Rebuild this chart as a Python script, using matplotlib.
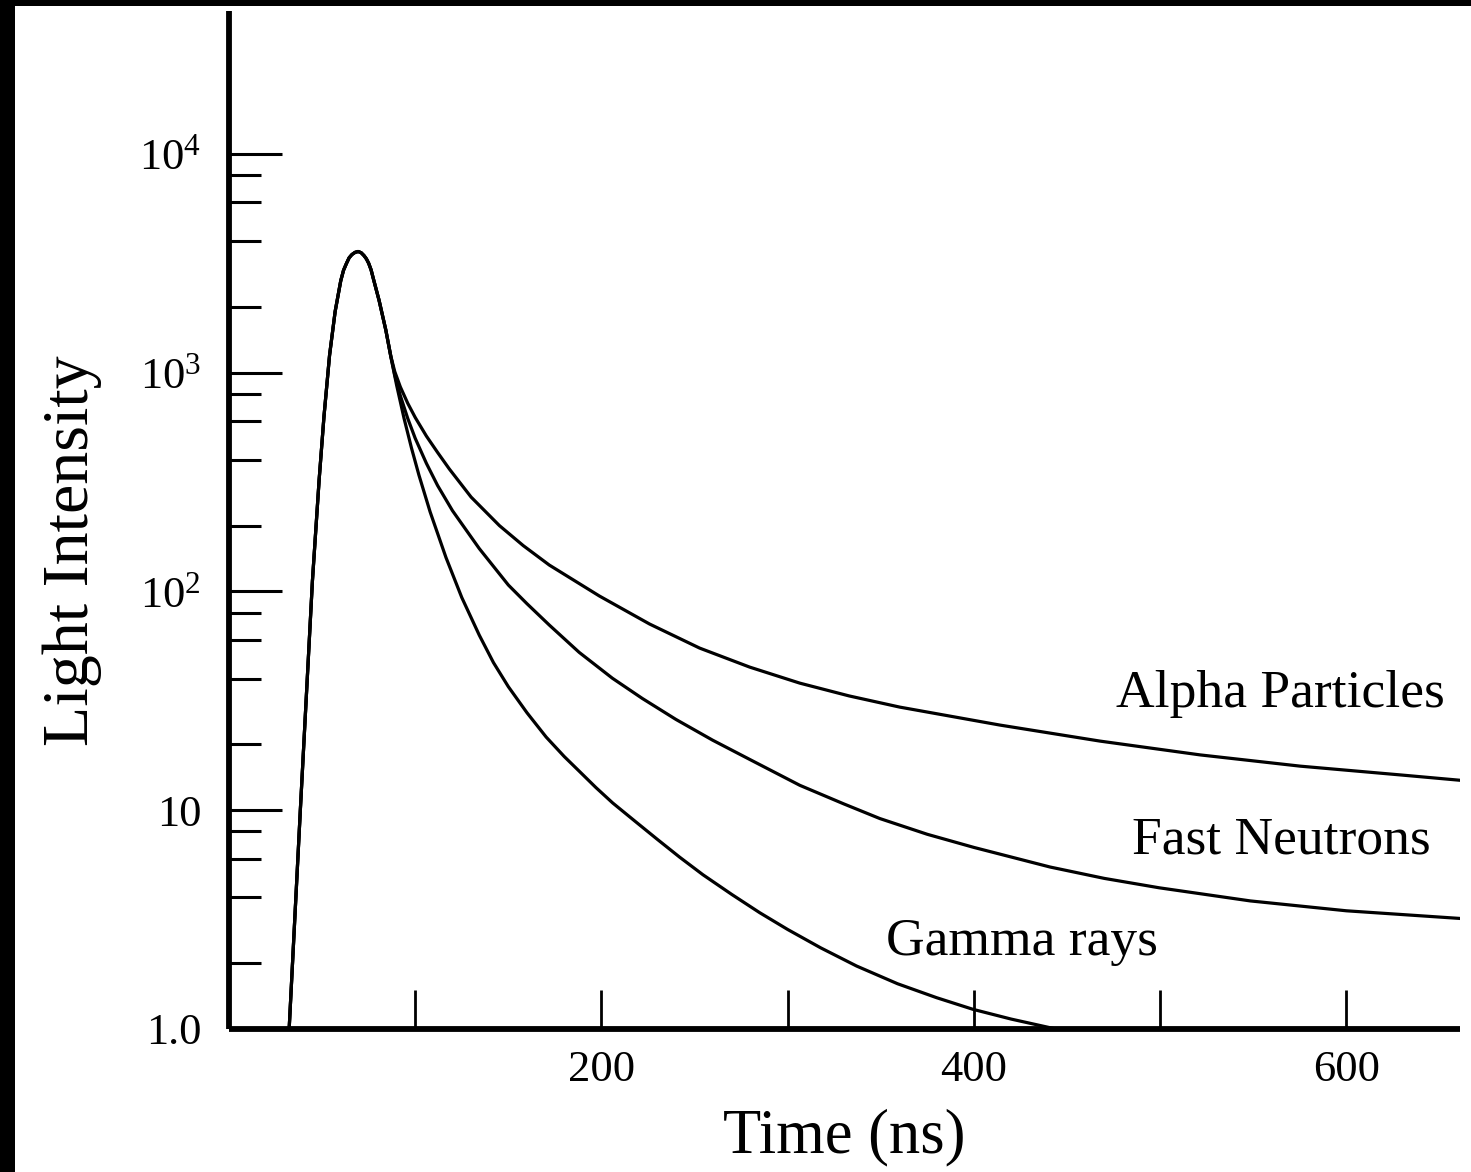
import matplotlib
matplotlib.use('Agg')
import matplotlib.pyplot as plt
from matplotlib.patches import Rectangle
from matplotlib.ticker import FixedLocator, NullFormatter

plt.rcParams['font.family'] = ['Liberation Serif', 'DejaVu Serif']
plt.rcParams['mathtext.fontset'] = 'custom'
plt.rcParams['mathtext.rm'] = 'Liberation Serif'
plt.rcParams['mathtext.it'] = 'Liberation Serif:italic'

# ---- data ----
# shared rising edge and peak (ns, intensity)
rise_t = [32.3, 38.3, 44.8, 48.4, 51.0, 54.0, 57.0, 60.0, 61.5, 63.1, 64.5, 66.0, 67.7, 69.4,
          71.0, 72.5, 73.8, 75.0, 76.3, 77.5, 80.6, 84.2]
rise_i = [1.0, 10.0, 112.0, 324.0, 631.0, 1202.0, 1905.0, 2630.0, 2938.0, 3162.0, 3350.0, 3467.0, 3548.0, 3581.0,
          3532.0, 3428.0, 3311.0, 3162.0, 2951.0, 2692.0, 2138.0, 1567.0]

gamma_t = [86.9, 90.0, 94.0, 98.0, 102.0, 108.0, 116.5, 125.0, 134.4, 142.0, 150.0, 160.0, 170.3, 180.0,
           188.0, 197.0, 206.0, 218.0, 230.0, 242.0, 254.5, 270.0, 285.0, 300.0, 317.7, 337.0, 359.0,
           380.0, 399.5, 420.0, 444.0]
gamma_i = [1183.0, 877.0, 618.0, 452.0, 340.0, 231.0, 143.0, 93.8, 63.1, 47.3, 36.7, 27.9, 21.6, 17.6,
           15.1, 12.7, 10.8, 8.91, 7.36, 6.10, 5.07, 4.12, 3.40, 2.85, 2.35, 1.94, 1.61,
           1.39, 1.23, 1.11, 1.0]

neutron_t = [86.9, 89.0, 92.0, 96.0, 100.0, 106.0, 112.0, 120.0, 134.4, 150.0, 160.0, 172.0, 188.0, 205.9,
             222.0, 240.0, 259.7, 280.0, 306.5, 330.0, 349.5, 375.0, 400.0, 440.9, 470.0, 499.5, 548.4,
             600.0, 661.3]
neutron_i = [1186.0, 977.0, 785.0, 617.0, 501.0, 385.0, 305.0, 234.0, 157.0, 107.0, 87.9, 70.2, 52.7, 40.1,
             32.4, 26.0, 20.9, 17.0, 13.0, 10.7, 9.16, 7.76, 6.76, 5.50, 4.88, 4.42, 3.85,
             3.47, 3.20]

alpha_t = [86.9, 89.0, 92.0, 96.0, 100.0, 106.0, 112.0, 118.3, 130.0, 145.2, 158.0, 172.0, 198.9,
           225.8, 252.7, 279.6, 306.5, 333.0, 360.2, 414.0, 467.7, 521.5, 575.3, 629.0, 661.3]
alpha_i = [1189.0, 1012.0, 861.0, 724.0, 624.0, 513.0, 432.0, 363.0, 270.0, 200.0, 162.0, 132.0, 95.3,
           71.0, 55.1, 45.1, 38.1, 33.3, 29.6, 24.5, 20.7, 17.9, 15.9, 14.5, 13.7]

labels = ["Alpha Particles", "Fast Neutrons", "Gamma rays"]
label_pos = [(653.0, 29.7, 'right'), (645.0, 6.37, 'right'), (353.0, 2.18, 'left')]

x_ticks = [100, 200, 300, 400, 500, 600]
x_ticklabels = ["", "200", "", "400", "", "600"]
y_ticks = [1.0, 10.0, 100.0, 1000.0, 10000.0]
y_ticklabels = ["1.0", "10", "$10^2$", "$10^3$", "$10^4$"]
y_minor = [m * d for d in [1, 10, 100, 1000] for m in [2, 4, 6, 8]]

# ---- figure ----
fig = plt.figure(figsize=(14.71, 11.72), dpi=100)
fig.patch.set_facecolor('white')
ax = fig.add_axes([229 / 1471, 1 - 1029 / 1172, (1460 - 229) / 1471, (1029 - 11) / 1172])

for t, i in [(alpha_t, alpha_i), (neutron_t, neutron_i), (gamma_t, gamma_i)]:
    ax.plot(rise_t + t, rise_i + i, color='black', lw=2.3,
            solid_joinstyle='round', solid_capstyle='butt')

ax.set_yscale('log')
ax.set_xlim(0, 661)
ax.set_ylim(1.0, 45000)

for s in ['top', 'right']:
    ax.spines[s].set_visible(False)
for s in ['left', 'bottom']:
    ax.spines[s].set_linewidth(4.2)
    ax.spines[s].set_capstyle('butt')

ax.xaxis.set_major_locator(FixedLocator(x_ticks))
ax.set_xticklabels(x_ticklabels)
ax.yaxis.set_major_locator(FixedLocator(y_ticks))
ax.set_yticklabels(y_ticklabels)
ax.yaxis.set_minor_locator(FixedLocator(y_minor))
ax.yaxis.set_minor_formatter(NullFormatter())
ax.xaxis.set_minor_locator(FixedLocator([]))

ax.tick_params(axis='x', which='major', direction='in', length=28, width=2.0,
               labelsize=32, pad=15, color='black')
ax.tick_params(axis='y', which='major', direction='in', length=38, width=2.2,
               labelsize=32, pad=20, color='black')
ax.tick_params(axis='y', which='minor', direction='in', length=23, width=2.2, color='black')

ax.set_xlabel("Time (ns)", fontsize=45)
ax.xaxis.set_label_coords(0.5, -0.078)
ax.set_ylabel("Light Intensity", fontsize=47.5)
ax.yaxis.set_label_coords(-0.1032, 0.4695)

for txt, (x, y, ha) in zip(labels, label_pos):
    ax.text(x, y, txt, fontsize=38.5, ha=ha, va='baseline')

# black frame edges
fig.patches.append(Rectangle((0, 0), 15 / 1471, 1, transform=fig.transFigure,
                             facecolor='black', edgecolor='none', zorder=10))
fig.patches.append(Rectangle((0, 1 - 6 / 1172), 1, 6 / 1172, transform=fig.transFigure,
                             facecolor='black', edgecolor='none', zorder=10))

fig.savefig('out.png', dpi=100, facecolor='white')
